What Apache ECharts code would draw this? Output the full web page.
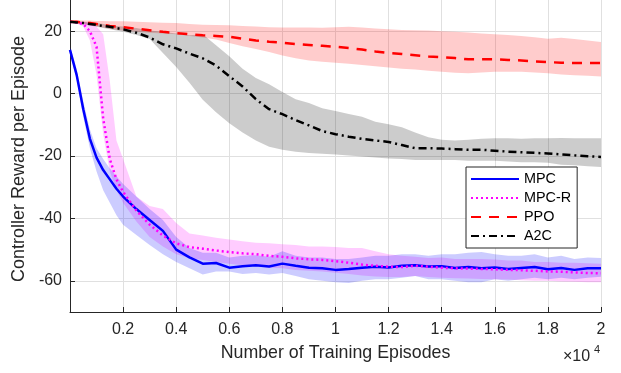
<!DOCTYPE html>
<html><head><meta charset="utf-8">
<script src="https://cdn.jsdelivr.net/npm/echarts@6/dist/echarts.min.js"></script>
<style>html,body{margin:0;padding:0;background:#fff}#c{width:621px;height:373px}</style>
</head><body><div id="c"></div>
<script>
const episodes = [0,250,500,750,1000,1250,1500,1750,2000,2500,3000,3500,4000,4500,5000,5500,6000,6500,7000,7500,8000,8500,9000,9500,10000,10500,11000,11500,12000,12500,13000,13500,14000,14500,15000,15500,16000,16500,17000,17500,18000,18500,19000,19500,20000];

const mpcMean = [14,6,-5,-14.5,-20.5,-24.5,-27.5,-30.5,-33,-37,-40.5,-44,-50,-52.5,-54.5,-54.3,-55.8,-55.3,-55,-55.4,-54.5,-55.2,-55.8,-56,-56.5,-56.2,-55.8,-55.5,-55.7,-55.2,-55,-55.4,-55.3,-55.9,-55.6,-56,-55.7,-56.2,-55.9,-55.6,-56.3,-55.9,-56.5,-56,-56];
const mpcLo = [13,4.5,-7.5,-17.5,-25,-31,-35,-39,-42,-45.3,-48.5,-51.5,-54,-56,-58,-57,-57,-57.8,-57.5,-58,-57.5,-58.5,-59.5,-60,-60.5,-60.7,-60,-59.5,-59.5,-59,-58.5,-59.5,-59.5,-60,-60.5,-60.5,-59.5,-60,-59.5,-59,-59.5,-59,-59.5,-59,-58.7];
const mpcHi = [15,8,-2.5,-11.5,-17.5,-21,-24,-26.5,-29,-33,-37,-40.5,-46,-49.5,-51,-51,-52.5,-52,-51.8,-52.3,-50.5,-52,-52.5,-52.5,-53,-53,-52.5,-52,-52,-51.5,-51.5,-52,-51.5,-51.5,-51,-50.8,-51.5,-52,-52,-51.5,-52.5,-52,-53,-52.5,-52.7];

const mpcrMean = [23,22.8,22.3,20,15,-8,-21,-27.5,-31.5,-37.5,-42,-45.5,-48,-49.2,-49.7,-50.3,-50.8,-51.2,-51.5,-52,-52.3,-52.8,-53.1,-53.3,-53.7,-54.2,-54.8,-55.2,-55.5,-55.6,-55.2,-55.5,-55.8,-56,-56.1,-56.2,-56.3,-56.5,-56.6,-56.8,-57,-57.1,-57.3,-57.5,-57.6];
const mpcrLo = [22.7,22.5,21.5,17,6,-13,-25,-31,-35,-41,-46,-49,-51.5,-52.8,-53.3,-54,-54.5,-55,-55.3,-55.8,-56,-56.5,-56.8,-57,-57.4,-57.8,-58.3,-58.6,-58.8,-58.8,-58.5,-58.8,-59,-59.2,-59.3,-59.4,-59.5,-59.6,-59.8,-60,-60,-60.2,-60.3,-60.5,-60.5];
const mpcrHi = [23.3,23.2,23,22.7,21.5,19,4,-15,-21,-33,-36,-37,-41.5,-44.8,-45.5,-46.2,-46.8,-47.3,-47.8,-48,-48.3,-48.5,-49,-49,-49.2,-49.5,-49.5,-50.5,-51.5,-52,-52.3,-52.7,-52.5,-53,-53,-53,-53.2,-53.5,-53.5,-54,-54,-54.2,-54.2,-54.4,-54.5];

const ppoMean = [23,23,22.8,22.6,22.3,22,21.7,21.5,21.3,20.8,20.3,19.8,19.4,19,18.7,18.5,18.2,17.6,17,16.6,16.3,15.9,15.6,15.3,15,14.6,14.1,13.5,13,12.7,12.3,11.9,11.7,11.4,11,11,11,10.8,10.6,10.3,10.1,9.9,9.8,9.8,9.8];
const ppoLo = [22.5,22.5,22.3,22,21.6,21.2,20.8,20.5,20.2,19.8,19.5,19.3,19,18.5,18,17.3,16.2,15.2,14.3,13.3,12.2,11.3,10.6,10.2,9.9,9.6,9.2,8.8,8.4,8,7.7,7.3,7,6.7,6.5,6.8,7,7,7,6.8,6.5,6.1,5.9,5.7,5.5];
const ppoHi = [23.5,23.5,23.4,23.4,23.3,23.3,23.2,23.2,23.2,23,22.9,22.7,22.6,22.3,22.1,22,21.9,21.7,21.5,21.3,21.2,21.2,21.2,21.1,21.3,21.4,21.2,20.9,20.6,20.4,20.3,20.2,20,19.8,19.6,19.3,19,18.8,18.5,18.1,17.6,17.9,17.5,17,16.5];

const a2cMean = [23,22.8,22.6,22.3,22,21.7,21.4,21,20.6,19.5,18,15.8,14.5,12.8,11.3,9,5.6,2.3,-1.8,-5,-6.6,-8.5,-10.2,-12,-13,-13.8,-14.5,-15,-15.5,-16.5,-17.5,-17.5,-17.6,-17.8,-18,-18,-18.3,-18.6,-18.8,-19,-19.2,-19.5,-19.8,-20.1,-20.3];
const a2cLo = [22.7,22.5,22.2,21.8,21.4,21,20.6,20.2,19.8,18.8,17.5,13,8.5,3.5,-2,-6,-9.5,-12.5,-15,-17,-18,-18.6,-19,-19.3,-19.5,-19.8,-20.2,-20.5,-20.8,-21,-21.3,-21.3,-21.3,-21.3,-21.5,-21.5,-21.5,-21.8,-22,-22,-22.2,-22.8,-23,-23.3,-23.5];
const a2cHi = [23.3,23.2,23,22.8,22.6,22.3,22,21.7,21.5,21,20.2,19.8,19.3,18.7,19,15.5,12,8,5,3,0.5,-1.8,-3,-4.7,-5.6,-6.5,-7.4,-9,-9.8,-10.8,-12.5,-14,-14.8,-15,-14.8,-14.5,-14.3,-14.3,-14.5,-14.3,-14.3,-14.2,-14.3,-14.3,-14.3];

const xTicks = [2000,4000,6000,8000,10000,12000,14000,16000,18000,20000];
const yTicks = [-60,-40,-20,0,20];
const seriesNames = ['MPC','MPC-R','PPO','A2C'];

const FONT = 'Liberation Sans, Arial, sans-serif';
const TXT = '#262626';

function pairs(ys){ return episodes.map((x,i)=>[x,ys[i]]); }

// shaded band as one polygon, positioned through the axes with api.coord
function band(key,lo,hi,color){
  const rows = episodes.map((x,i)=>[x,lo[i],hi[i]]);
  return {
    type:'custom',name:key+'_band',silent:true,z:1,animation:false,
    data:rows,
    encode:{x:0,y:[1,2]},
    renderItem:function(params,api){
      if(params.dataIndex!==0) return null;
      const top=[], bot=[];
      for(let i=0;i<rows.length;i++){
        top.push(api.coord([rows[i][0],rows[i][2]]));
        bot.push(api.coord([rows[i][0],rows[i][1]]));
      }
      const pts = top.concat(bot.reverse());
      return {type:'polygon',shape:{points:pts},style:{fill:color,stroke:null},
        clipPath:{type:'rect',shape:{x:params.coordSys.x,y:params.coordSys.y,width:params.coordSys.width,height:params.coordSys.height}}};
    }
  };
}
function line(name,ys,color,type,z){
  return {type:'line',name:name,data:pairs(ys),symbol:'none',showSymbol:false,
    lineStyle:{color:color,width:2.5,type:type},itemStyle:{color:color},z:z,animation:false};
}

const chart = echarts.init(document.getElementById('c'),null,{renderer:'canvas'});
chart.setOption({
  backgroundColor:'#fff',
  animation:false,
  grid:{left:70,right:20,top:0,bottom:61,containLabel:false},
  xAxis:{type:'value',min:0,max:20000,
    name:'Number of Training Episodes',nameLocation:'middle',nameGap:32,
    nameTextStyle:{fontFamily:FONT,fontSize:17.8,color:TXT},
    axisLine:{show:true,onZero:false,lineStyle:{color:TXT,width:1}},
    axisTick:{show:true,inside:true,length:5,customValues:xTicks,lineStyle:{color:TXT}},
    axisLabel:{customValues:xTicks,formatter:v=>String(parseFloat((v/10000).toFixed(1))),fontFamily:FONT,fontSize:16,color:TXT,margin:10},
    splitLine:{show:true,lineStyle:{color:'#e0e0e0',width:1}}},
  yAxis:{type:'value',min:-70,max:30,
    name:'Controller Reward per Episode',nameLocation:'middle',nameGap:41,
    nameTextStyle:{fontFamily:FONT,fontSize:18,color:TXT,padding:[0,6,0,0]},
    axisLine:{show:true,onZero:false,lineStyle:{color:TXT,width:1}},
    axisTick:{show:true,inside:true,length:5,customValues:yTicks,lineStyle:{color:TXT}},
    axisLabel:{customValues:yTicks,fontFamily:FONT,fontSize:16,color:TXT,margin:8},
    splitLine:{show:true,lineStyle:{color:'#e0e0e0',width:1}}},
  legend:{data:seriesNames,orient:'vertical',left:466,top:167,padding:[5,6,5,4],
    itemWidth:48,itemHeight:14,itemGap:5,borderColor:TXT,borderWidth:1,backgroundColor:'#fff',
    itemStyle:{opacity:0},
    textStyle:{fontFamily:FONT,fontSize:14.4,color:'#000'}},
  graphic:[
    {type:'text',left:563,top:349,style:{text:'×10',fontFamily:FONT,fontSize:16,fill:TXT}},
    {type:'text',left:594,top:344,style:{text:'4',fontFamily:FONT,fontSize:11,fill:TXT}}
  ],
  series:[
    band('ppo',ppoLo,ppoHi,'rgba(255,0,0,0.2)'),
    band('a2c',a2cLo,a2cHi,'rgba(0,0,0,0.2)'),
    band('mpcr',mpcrLo,mpcrHi,'rgba(255,0,255,0.2)'),
    band('mpc',mpcLo,mpcHi,'rgba(0,0,255,0.2)'),
    line('MPC',mpcMean,'#0000ff','solid',5),
    line('MPC-R',mpcrMean,'#ff00ff',[2,3],6),
    line('PPO',ppoMean,'#ff0000',[10,8],7),
    line('A2C',a2cMean,'#000000',[8,4,2,4],8)
  ]
});
</script></body></html>
